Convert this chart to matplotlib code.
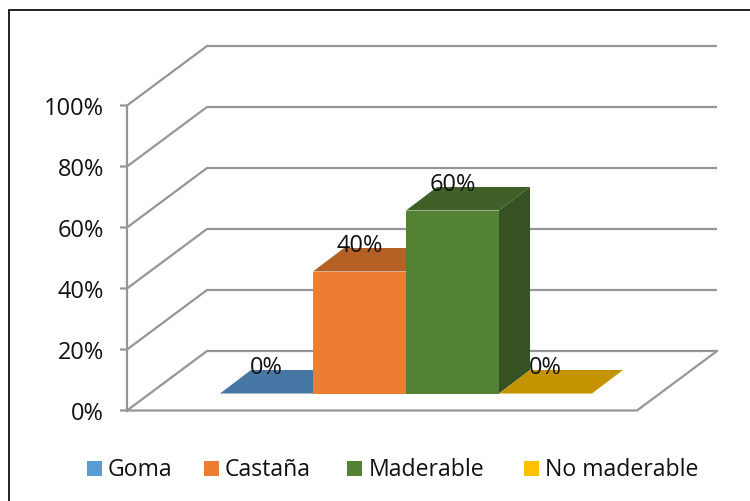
import matplotlib
matplotlib.use('Agg')
import matplotlib.pyplot as plt
from matplotlib.lines import Line2D
from matplotlib.patches import Rectangle

plt.rcParams['font.family'] = ['Open Sans', 'DejaVu Sans']

categories = ['Goma', 'Castaña', 'Maderable', 'No maderable']
values = [0, 40, 60, 0]
ticks = [0, 20, 40, 60, 80, 100]

front = ['#5B9BD5', '#ED7D31', '#548235', '#FFC000']
top = ['#4676A3', '#B56024', '#3F6128', '#C49300']
side = ['#3A6288', '#96501E', '#365223', '#A37A00']
grid = '#969696'
ink = '#111111'

# one category = 93 px, one percent = 3.05 px
px_x = 93.0
px_y = 3.05
x0 = 220.0
y0 = 410.5

fig = plt.figure(figsize=(7.5, 5.01), dpi=100)
ax = fig.add_axes([0, 0, 1, 1])
ax.set_xlim(-x0 / px_x, (750 - x0) / px_x)
ax.set_ylim((y0 - 501) / px_y, y0 / px_y)
ax.axis('off')

# outer frame, only top and left are inside the picture
fig.add_artist(Line2D([8.5 / 750, 8.5 / 750, 1], [0, 1 - 10 / 501, 1 - 10 / 501], transform=fig.transFigure,
                      color=ink, lw=1.3, solid_joinstyle='miter'))

# walls and floor
wall_x = (127 - x0) / px_x
floor_x = (637 - x0) / px_x
deep_x = 80 / px_x
deep_y = 59.5 / px_y
for t in ticks:
    ax.plot([wall_x - 7 / px_x, wall_x, wall_x + deep_x, floor_x + deep_x], [t, t, t + deep_y, t + deep_y],
            color=grid, lw=1.6, solid_joinstyle='miter', solid_capstyle='butt', zorder=1)
    ax.text(wall_x - 23 / px_x, t - 3.5 / px_y, str(t) + '%', ha='right', va='center', fontsize=17, color=ink, zorder=6)
ax.plot([wall_x, wall_x], [0, 100], color=grid, lw=1.6, zorder=1)
ax.plot([wall_x, floor_x, floor_x + deep_x], [0, 0, deep_y], color=grid, lw=1.6, solid_joinstyle='miter', zorder=1)

# bars
base = 17 / px_y
bar_dx = 31 / px_x
bar_dy = 23.5 / px_y
for i, v in enumerate(values):
    b = base
    h = base + v
    ax.fill([i, i + 1, i + 1 + bar_dx, i + bar_dx], [h, h, h + bar_dy, h + bar_dy], color=top[i], lw=0, zorder=3)
    if v > 0:
        ax.fill([i + 1, i + 1 + bar_dx, i + 1 + bar_dx, i + 1], [b, b + bar_dy, h + bar_dy, h], color=side[i], lw=0, zorder=3)
        ax.fill([i, i + 1, i + 1, i], [b, b, h, h], color=front[i], lw=0, zorder=4)
    ax.text(i + 0.5, h + 26 / px_y, str(v) + '%', ha='center', va='center', fontsize=17, color=ink, zorder=6)

# legend
leg_sq = [87, 204, 347, 524]
leg_txt = [108, 225, 369, 545]
for i, c in enumerate(categories):
    ax.add_patch(Rectangle(((leg_sq[i] - x0) / px_x, (y0 - 476) / px_y), 15 / px_x, 15 / px_y, color=front[i], lw=0))
    ax.text((leg_txt[i] - x0) / px_x, (y0 - 470.5) / px_y, c, ha='left', va='center', fontsize=16.6, color=ink)

fig.savefig('out.png', dpi=100)
